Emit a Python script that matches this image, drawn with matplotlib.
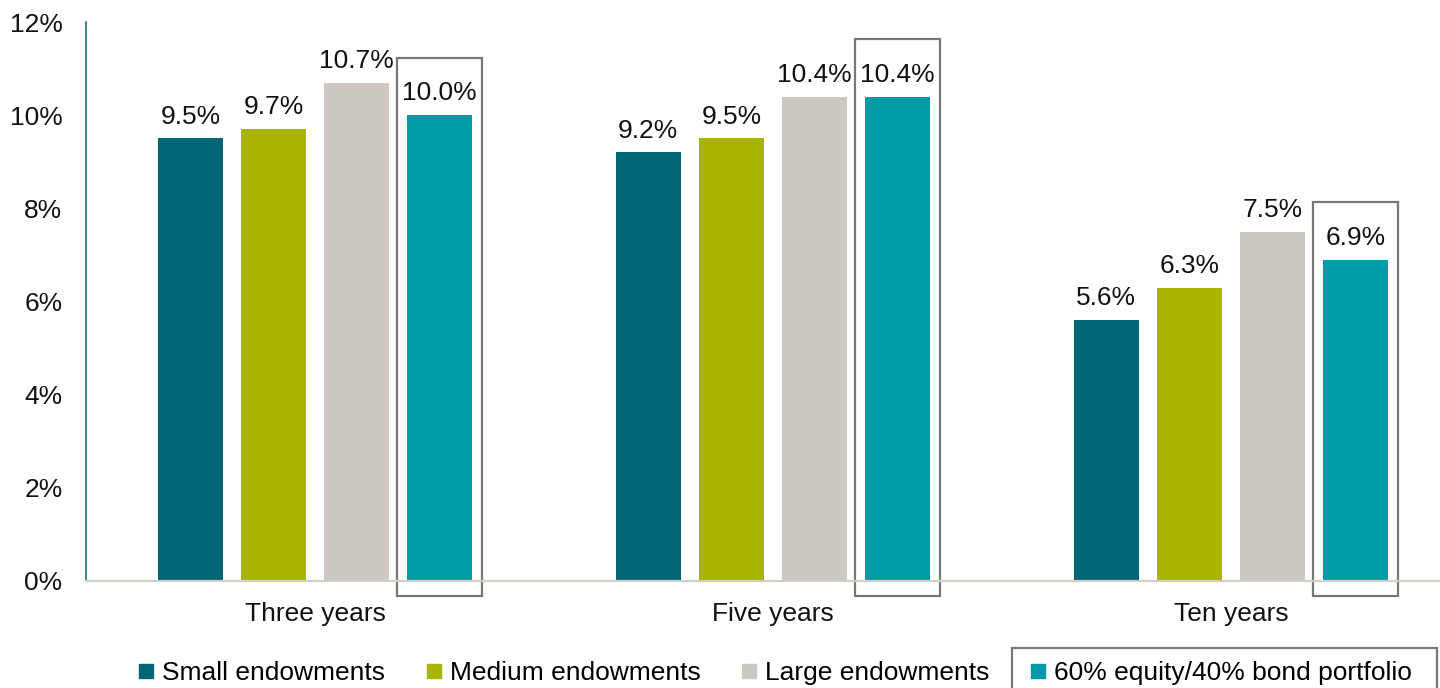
import matplotlib.pyplot as plt
import numpy as np
from matplotlib.lines import Line2D
from matplotlib.patches import Rectangle

plt.rcParams['font.family'] = ['Liberation Sans', 'DejaVu Sans']

periods = ['Three years', 'Five years', 'Ten years']
series = ['Small endowments', 'Medium endowments', 'Large endowments',
          '60% equity/40% bond portfolio']
small = [9.5, 9.2, 5.6]
medium = [9.7, 9.5, 6.3]
large = [10.7, 10.4, 7.5]
balanced = [10.0, 10.4, 6.9]
colors = ['#006674', '#a8b400', '#cdc8c1', '#009ba6']

fig = plt.figure(figsize=(14.4, 6.88), dpi=100)
ax = fig.add_axes([86 / 1440, 107 / 688, 1354 / 1440, (581 - 22) / 688])

x = np.arange(len(periods))
step = 0.1815
width = 0.142
fs = 19

for i, vals in enumerate([small, medium, large, balanced]):
    xs = x + (i - 1.5) * step
    ax.bar(xs, vals, width=width, color=colors[i])
    for xi, v in zip(xs, vals):
        ax.annotate(f'{v:.1f}%', (xi, v), xytext=(0, 7), textcoords='offset points',
                    ha='center', va='bottom', fontsize=fs, color='#111111')

# highlight box round the 60/40 bars
for xi, v in zip(x + 1.5 * step, balanced):
    ax.add_patch(Rectangle((xi - 0.093, -0.32), 0.186, v + 1.55,
                           fill=False, ec='#777777', lw=1.6, clip_on=False))

ax.set_xlim(-0.5, 2.456)
ax.set_ylim(0, 12)
ax.set_yticks(np.arange(0, 13, 2))
ax.set_yticklabels([f'{t}%' for t in range(0, 13, 2)])
ax.set_xticks(x)
ax.set_xticklabels(periods)
ax.tick_params(axis='y', length=0, pad=17, labelsize=fs, labelcolor='#111111')
ax.tick_params(axis='x', length=0, pad=15, labelsize=fs, labelcolor='#111111')

for s in ['top', 'right']:
    ax.spines[s].set_visible(False)
ax.spines['left'].set_color('#1b6f7b')
ax.spines['left'].set_linewidth(1.2)
ax.spines['bottom'].set_color('#d3cfc8')
ax.spines['bottom'].set_linewidth(1.6)

handles = [Line2D([], [], marker='s', ls='', color=c, markersize=9.5) for c in colors]
leg = fig.legend(handles, series, loc='center', bbox_to_anchor=(775 / 1440, 15 / 688), ncol=4,
                 frameon=False, fontsize=fs, handlelength=0.6, handletextpad=0.3,
                 columnspacing=1.55, borderaxespad=0)

fig.canvas.draw()
bb = leg.get_texts()[-1].get_window_extent()
x0 = bb.x0 - 42
x1 = bb.x1 + 25
fig.patches.append(Rectangle((x0 / 1440, -0.05), (x1 - x0) / 1440, 40 / 688 + 0.05,
                             transform=fig.transFigure, fill=False, ec='#777777', lw=1.6))

fig.savefig('out.png', dpi=100)
